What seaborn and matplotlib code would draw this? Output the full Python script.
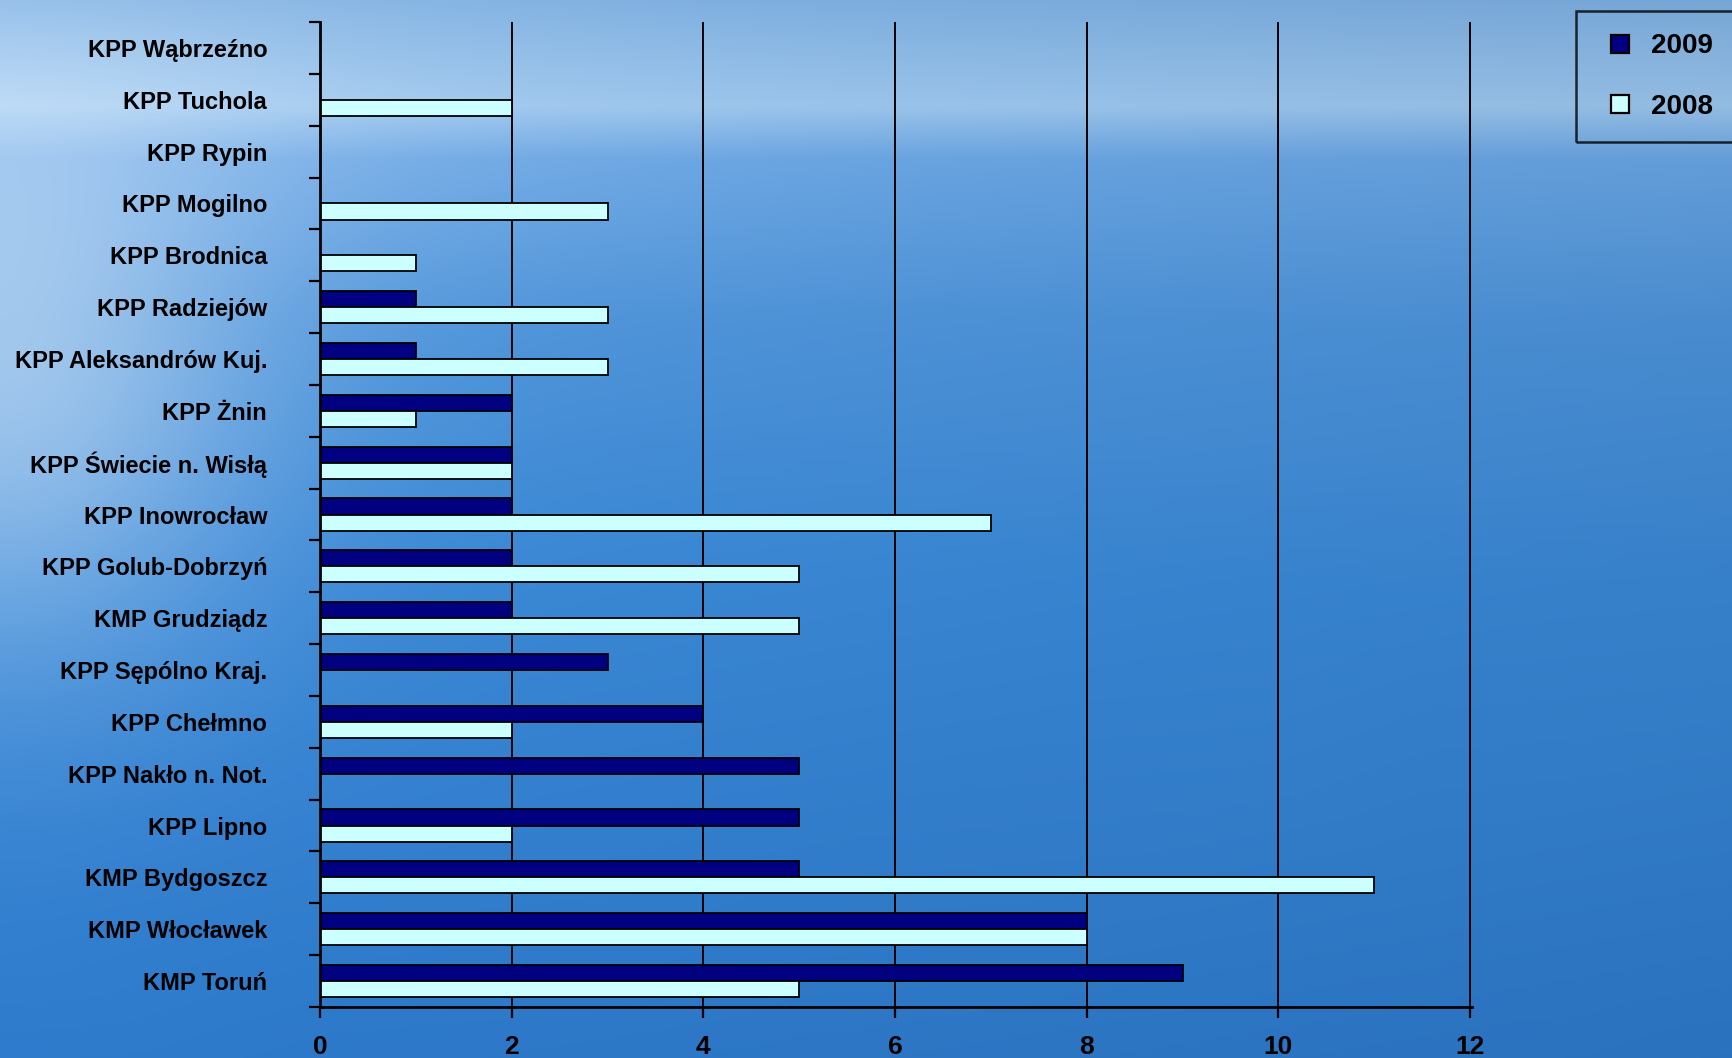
import numpy as np
import pandas as pd
import seaborn as sns
import matplotlib.pyplot as plt
from matplotlib.lines import Line2D

categories = ["KPP Wąbrzeźno", "KPP Tuchola", "KPP Rypin", "KPP Mogilno", "KPP Brodnica",
              "KPP Radziejów", "KPP Aleksandrów Kuj.", "KPP Żnin", "KPP Świecie n. Wisłą",
              "KPP Inowrocław", "KPP Golub-Dobrzyń", "KMP Grudziądz", "KPP Sępólno Kraj.",
              "KPP Chełmno", "KPP Nakło n. Not.", "KPP Lipno", "KMP Bydgoszcz",
              "KMP Włocławek", "KMP Toruń"]
v2009 = [0, 0, 0, 0, 0, 1, 1, 2, 2, 2, 2, 2, 3, 4, 5, 5, 5, 8, 9]
v2008 = [0, 2, 0, 3, 1, 3, 3, 1, 2, 7, 5, 5, 0, 2, 0, 2, 11, 8, 5]
years = ["2009", "2008"]
colors = {"2009": "#000080", "2008": "#CCFFFF"}
xticks = [0, 2, 4, 6, 8, 10, 12]

df = pd.DataFrame({
    "unit": categories * 2,
    "year": [years[0]] * len(categories) + [years[1]] * len(categories),
    "value": v2009 + v2008,
})

W, H = 1732, 1058
fig = plt.figure(figsize=(W / 100, H / 100), dpi=100)

# background: sky / sea gradient
yy, xx = np.mgrid[0:H, 0:W]
t = yy / (H - 1)
stops_t = [0.0, 0.10, 0.15, 0.30, 0.55, 1.0]
stops_c = np.array([[0.50, 0.70, 0.90], [0.62, 0.79, 0.95], [0.42, 0.66, 0.91],
                    [0.31, 0.59, 0.87], [0.23, 0.54, 0.85], [0.18, 0.48, 0.80]])
img = np.zeros((H, W, 3))
for k in range(3):
    img[..., k] = np.interp(t, stops_t, stops_c[:, k])
xr = xx / W
white = 0.45 * np.exp(-(xx / 260.0) ** 2) * np.exp(-((yy - 380) / 280.0) ** 2)
white += 0.15 * np.exp(-(xx / 600.0) ** 2) * np.exp(-((yy - 100) / 200.0) ** 2)
img = img + (1 - img) * white[..., None]
img = img * (1 - 0.07 * xr[..., None])
img = np.clip(img, 0, 1)
bg = fig.add_axes([0, 0, 1, 1])
bg.imshow(img, aspect="auto", extent=[0, 1, 0, 1], interpolation="bilinear")
bg.axis("off")
bg.set_zorder(-5)

left, right, top, bottom = 320, 1472, 22, 1007
ax = fig.add_axes([left / W, 1 - bottom / H, (right - left) / W, (bottom - top) / H])
ax.patch.set_alpha(0)

sns.barplot(data=df, y="unit", x="value", hue="year", order=categories, hue_order=years,
            palette=colors, orient="h", width=0.62, edgecolor="black", linewidth=1.3,
            saturation=1, ax=ax, legend=False)

ax.set_xlim(0, 12.02)
ax.set_ylim(len(categories) - 0.5, -0.5)
ax.set_xlabel("")
ax.set_ylabel("")
ax.set_xticks(xticks)
ax.grid(axis="x", color="black", lw=1.4)
ax.grid(axis="y", visible=False)
ax.set_axisbelow(True)
for s in ["top", "right"]:
    ax.spines[s].set_visible(False)
for s in ["left", "bottom"]:
    ax.spines[s].set_color("black")
    ax.spines[s].set_linewidth(2.0)

lab_font = dict(family=["Liberation Sans", "DejaVu Sans"], weight="bold", size=17)
ax.set_yticks(range(len(categories)))
ax.set_yticklabels(categories, fontdict=lab_font)
ax.tick_params(axis="y", length=0, pad=38)
ax.set_yticks(np.arange(-0.5, len(categories)), minor=True)
ax.tick_params(axis="y", which="minor", length=8, width=1.6, direction="out", color="black")
ax.set_xticklabels([str(v) for v in xticks], fontdict=dict(lab_font, size=19))
ax.tick_params(axis="x", length=8, width=1.6, direction="out", pad=12, color="black")

handles = [Line2D([], [], ls="", marker="s", ms=13, mfc=colors[y], mec="black", mew=1.6)
           for y in years]
leg = fig.legend(handles, years, loc="upper left",
                 bbox_to_anchor=(1576 / W, 1 - 11 / H), frameon=True, fancybox=False,
                 prop=dict(family=["Liberation Sans", "DejaVu Sans"], weight="bold", size=20),
                 labelspacing=1.25, borderpad=0.8, handletextpad=0.3, handlelength=1.6,
                 borderaxespad=0)
leg.get_frame().set_edgecolor("black")
leg.get_frame().set_linewidth(1.8)
leg.get_frame().set_facecolor("none")

fig.savefig("out.png", dpi=100)
